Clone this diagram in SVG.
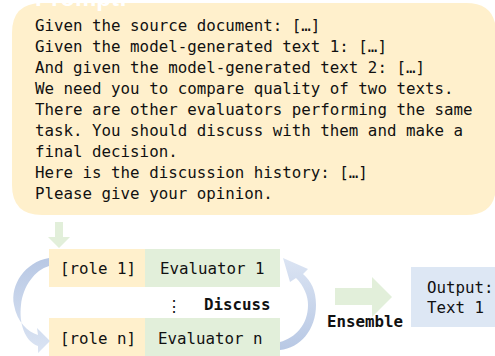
<svg xmlns="http://www.w3.org/2000/svg" width="495" height="356" viewBox="0 0 495 356">
<defs>
<style>
.mono{font-family:"DejaVu Sans Mono","Liberation Mono",monospace;font-size:15.8px;fill:#111111}
.bold{font-weight:bold}
</style>
<linearGradient id="cg" x1="0" y1="0" x2="0" y2="1">
<stop offset="0" stop-color="#b8c8e4"/>
<stop offset="1" stop-color="#dbe4f3"/>
</linearGradient>
<linearGradient id="cg2" x1="0" y1="1" x2="0" y2="0">
<stop offset="0" stop-color="#b8c8e4"/>
<stop offset="1" stop-color="#dbe4f3"/>
</linearGradient>
</defs>
<rect width="495" height="356" fill="#ffffff"/>
<g id="prompt">
<path d="M12,33 Q12,3 42,3 L466,3 Q496,3 496,33 L496,185 Q496,215 466,215 L42,215 Q12,215 12,185 Z" fill="#fff0cc"/>
<text x="35" y="6" fill="#ffffff" style="font-family:'Liberation Sans',sans-serif;font-size:24px;font-weight:bold">Prompt:</text>
<text class="mono">
<tspan x="35" y="31">Given the source document: […]</tspan>
<tspan x="35" y="52">Given the model-generated text 1: […]</tspan>
<tspan x="35" y="73">And given the model-generated text 2: […]</tspan>
<tspan x="35" y="94">We need you to compare quality of two texts.</tspan>
<tspan x="35" y="115">There are other evaluators performing the same</tspan>
<tspan x="35" y="136">task. You should discuss with them and make a</tspan>
<tspan x="35" y="157">final decision.</tspan>
<tspan x="35" y="178">Here is the discussion history: […]</tspan>
<tspan x="35" y="199">Please give your opinion.</tspan>
</text>
</g>
<g id="role1">
<rect x="49" y="249" width="96" height="38" fill="#fff0cc"/>
<text class="mono" x="60" y="274">[role 1]</text>
</g>
<g id="evaluator1">
<rect x="145" y="249" width="135" height="38" fill="#e2efda"/>
<text class="mono" x="160" y="274">Evaluator 1</text>
</g>
<g id="rolen">
<rect x="49" y="318" width="96" height="38" fill="#fff0cc"/>
<text class="mono" x="60" y="344">[role n]</text>
</g>
<g id="evaluatorn">
<rect x="145" y="318" width="135" height="38" fill="#e2efda"/>
<text class="mono" x="158" y="344">Evaluator n</text>
</g>
<g id="output">
<rect x="411" y="267" width="84" height="60" fill="#dde7f4"/>
<text class="mono"><tspan x="427" y="293">Output:</tspan><tspan x="427" y="313">Text 1</tspan></text>
</g>
<g id="connectors">
<path d="M55,222 L63,222 L63,237 L70,237 L59,248 L48,237 L55,237 Z" fill="#e2efda"/>
<path d="M49,258 C25,262 10,285 14,305 C17,322 28,332 38,335 L37,328 L50,341 L38,353 L38,346 C24,341 19,322 21,305 C23,286 35,270 49,266 Z" fill="url(#cg)"/>
<path d="M280,350 C300,348 316,330 316,305 C316,290 311,281 303,274 L308,269 L283,258 L290,282 L296,278 C304,286 308,296 308,305 C308,325 295,338 280,342 Z" fill="url(#cg2)"/>
<text class="mono" x="166" y="312">⋮</text>
<text class="mono bold" x="204" y="310">Discuss</text>
<path d="M335,288 L372,288 L372,277 L392,297 L372,317 L372,305 L335,305 Z" fill="#e2efda"/>
<text class="mono bold" x="327" y="327">Ensemble</text>
</g>
</svg>
